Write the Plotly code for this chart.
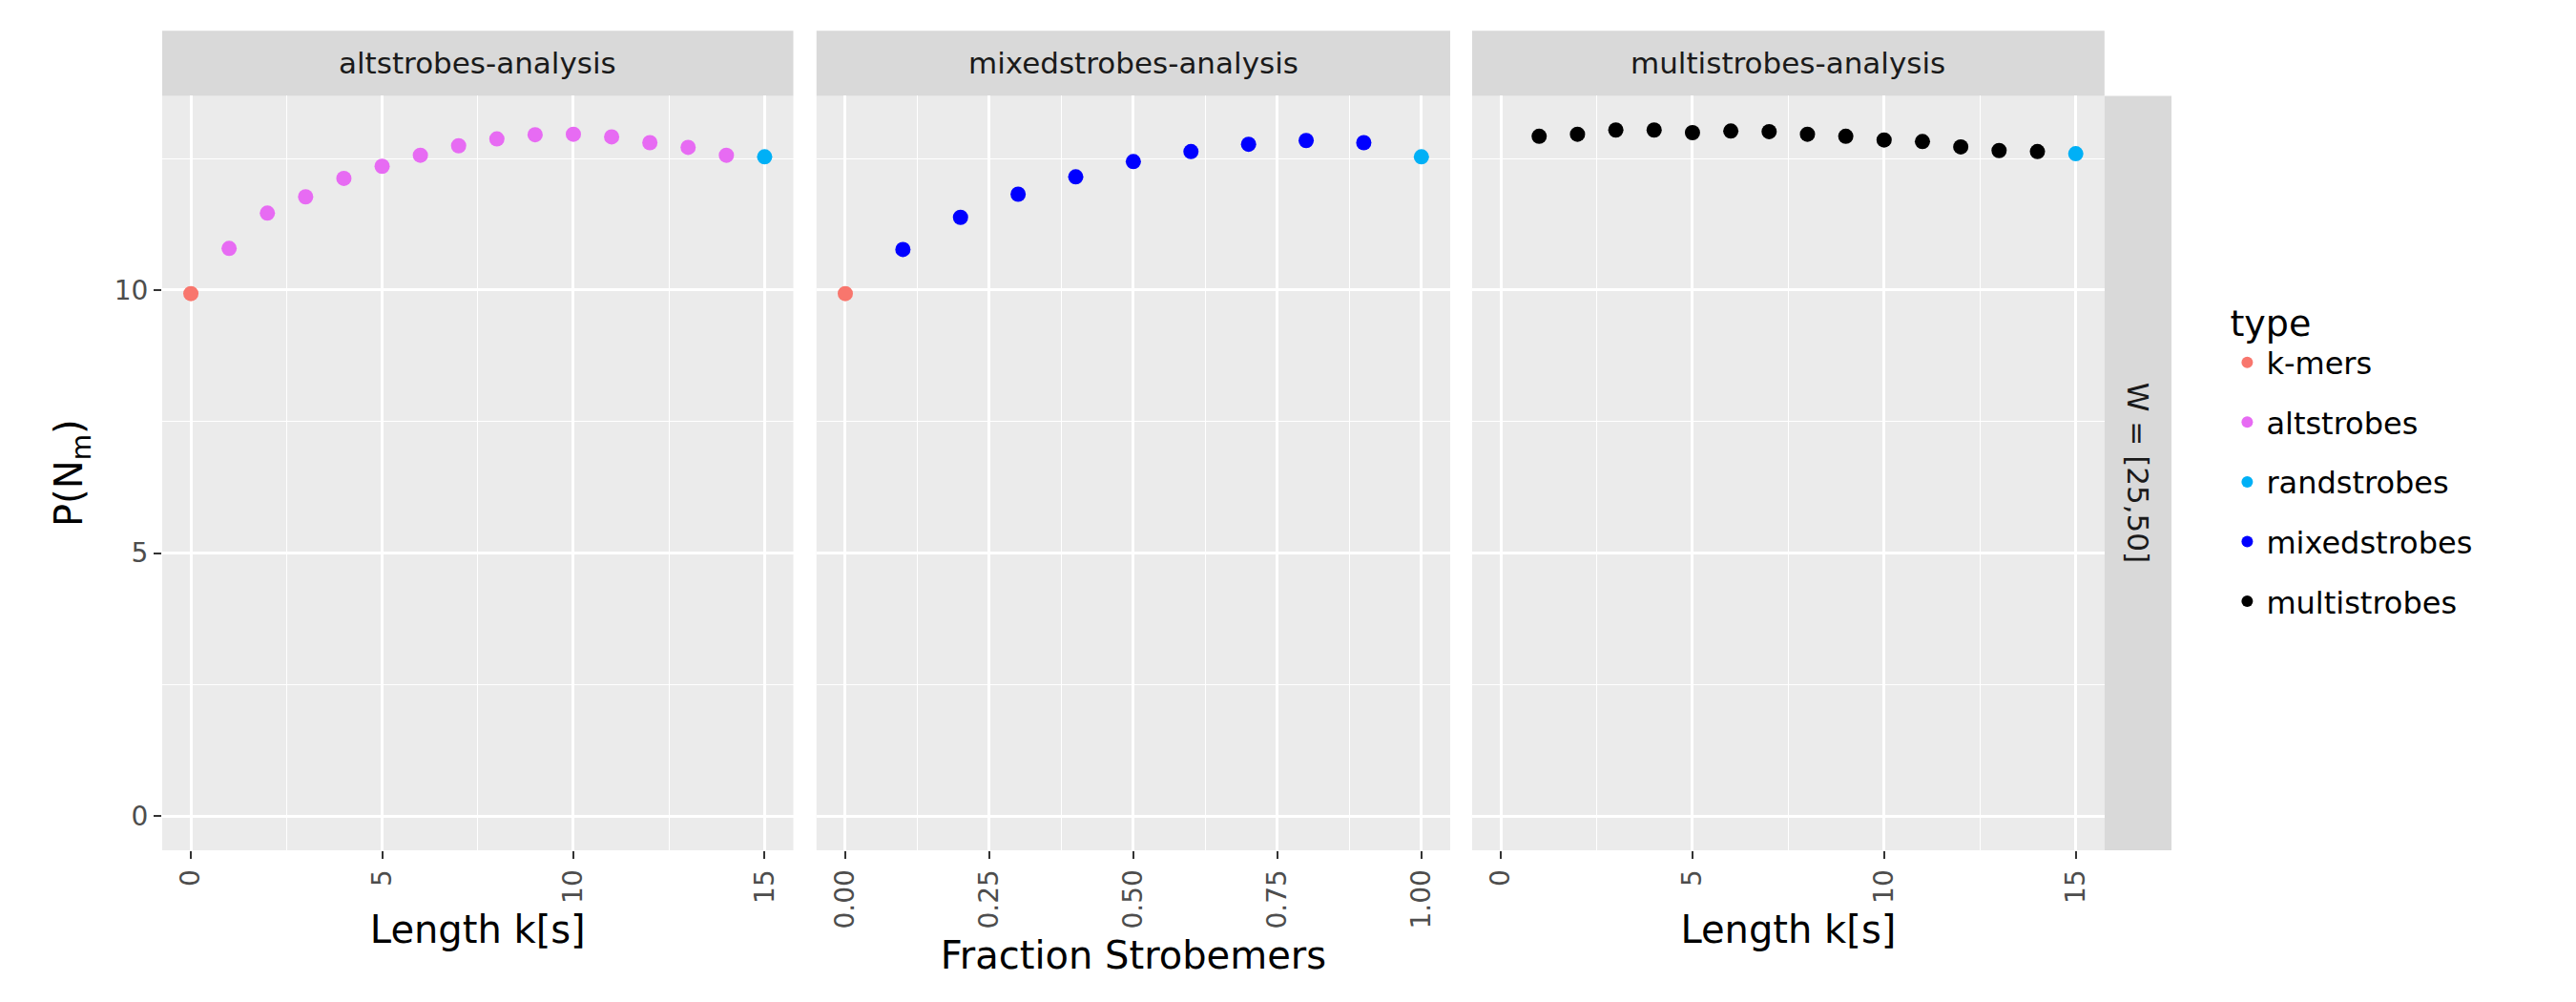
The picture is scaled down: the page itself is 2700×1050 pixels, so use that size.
import plotly.graph_objects as go

# values
alt_k = [0, 1, 2, 3, 4, 5, 6, 7, 8, 9, 10, 11, 12, 13, 14, 15]
alt_p = [9.93, 10.79, 11.46, 11.77, 12.12, 12.35, 12.56, 12.74, 12.87, 12.95, 12.96, 12.91, 12.80, 12.71, 12.56, 12.53]
alt_type = ["k-mers"] + ["altstrobes"] * 14 + ["randstrobes"]

mix_f = [0.0, 0.1, 0.2, 0.3, 0.4, 0.5, 0.6, 0.7, 0.8, 0.9, 1.0]
mix_p = [9.93, 10.77, 11.38, 11.82, 12.15, 12.44, 12.63, 12.77, 12.84, 12.80, 12.53]
mix_type = ["k-mers"] + ["mixedstrobes"] * 9 + ["randstrobes"]

multi_k = [1, 2, 3, 4, 5, 6, 7, 8, 9, 10, 11, 12, 13, 14, 15]
multi_p = [12.92, 12.96, 13.04, 13.04, 12.99, 13.02, 13.01, 12.96, 12.92, 12.85, 12.82, 12.72, 12.65, 12.63, 12.59]
multi_type = ["multistrobes"] * 14 + ["randstrobes"]

types = ["k-mers", "altstrobes", "randstrobes", "mixedstrobes", "multistrobes"]
colors = {"k-mers": "#F8766D", "altstrobes": "#E76BF3", "randstrobes": "#00B0F6",
          "mixedstrobes": "#0000FF", "multistrobes": "#000000"}

panels = [
    ("altstrobes-analysis", alt_k, alt_p, alt_type, "Length k[s]"),
    ("mixedstrobes-analysis", mix_f, mix_p, mix_type, "Fraction Strobemers"),
    ("multistrobes-analysis", multi_k, multi_p, multi_type, "Length k[s]"),
]
domains = [(0.060, 0.305), (0.314, 0.560), (0.5685, 0.814)]
y_dom = (0.159, 0.912)

fig = go.Figure()
shown = set()
for i, (title, xs, ys, ts, xlab) in enumerate(panels):
    ax = "" if i == 0 else str(i + 1)
    for t in types:
        px = [x for x, tt in zip(xs, ts) if tt == t]
        py = [y for y, tt in zip(ys, ts) if tt == t]
        if not px:
            continue
        fig.add_trace(go.Scatter(
            x=px, y=py, mode="markers", name=t, legendgroup=t,
            showlegend=t not in shown,
            marker=dict(color=colors[t], size=16),
            xaxis="x" + ax, yaxis="y" + ax,
        ))
        shown.add(t)

axis_common = dict(
    showgrid=True, gridcolor="white", gridwidth=2.5, zeroline=False,
    ticks="outside", ticklen=8, tickwidth=2, tickcolor="#333333",
    tickfont=dict(size=28, color="#4D4D4D"), showline=False,
)
layout = dict(
    width=2700, height=1050, paper_bgcolor="white", plot_bgcolor="#EBEBEB",
    font=dict(family="DejaVu Sans", color="black"),
    margin=dict(l=0, r=0, t=0, b=0),
)
for i, (title, xs, ys, ts, xlab) in enumerate(panels):
    ax = "" if i == 0 else str(i + 1)
    if i == 1:
        xr, dt, fmt, mdt = [-0.05, 1.05], 0.25, ".2f", 0.125
    else:
        xr, dt, fmt, mdt = [-0.75, 15.75], 5, "d", 2.5
    layout["xaxis" + ax] = dict(
        axis_common, domain=list(domains[i]), range=xr, dtick=dt, tick0=0,
        tickformat=fmt, tickangle=-90, anchor="y" + ax,
        minor=dict(dtick=mdt, tick0=0, showgrid=True, gridcolor="white", gridwidth=1.2),
        title=dict(text=xlab, font=dict(size=40), standoff=14),
    )
    layout["yaxis" + ax] = dict(
        axis_common, domain=list(y_dom), range=[-0.65, 13.69], dtick=5, tick0=0,
        anchor="x" + ax, showticklabels=(i == 0),
        ticks="outside" if i == 0 else "",
        minor=dict(dtick=2.5, tick0=0, showgrid=True, gridcolor="white", gridwidth=1.2),
        title=dict(text="P(N<sub>m</sub>)" if i == 0 else "", font=dict(size=40), standoff=20),
    )
fig.update_layout(**layout)

# facet strips
for i, (title, *_rest) in enumerate(panels):
    x0, x1 = domains[i]
    fig.add_shape(type="rect", xref="paper", yref="paper", x0=x0, x1=x1, y0=0.912, y1=0.977,
                  fillcolor="#D9D9D9", line_width=0, layer="below")
    fig.add_annotation(text=title, xref="paper", yref="paper", x=(x0 + x1) / 2, y=0.9445,
                       xanchor="center", yanchor="middle",
                       showarrow=False, font=dict(size=31, color="#1A1A1A"))
fig.add_shape(type="rect", xref="paper", yref="paper", x0=0.814, x1=0.840, y0=y_dom[0], y1=y_dom[1],
              fillcolor="#D9D9D9", line_width=0, layer="below")
fig.add_annotation(text="W = [25,50]", xref="paper", yref="paper", x=0.827, y=sum(y_dom) / 2,
                   xanchor="center", yanchor="middle",
                   textangle=90, showarrow=False, font=dict(size=31, color="#1A1A1A"))

fig.update_layout(legend=dict(
    title=dict(text="type", font=dict(size=38)), font=dict(size=32),
    x=0.862, xanchor="left", y=0.55, yanchor="middle", itemsizing="constant",
    tracegroupgap=18, bgcolor="rgba(0,0,0,0)",
))

fig.write_html("out.html")
